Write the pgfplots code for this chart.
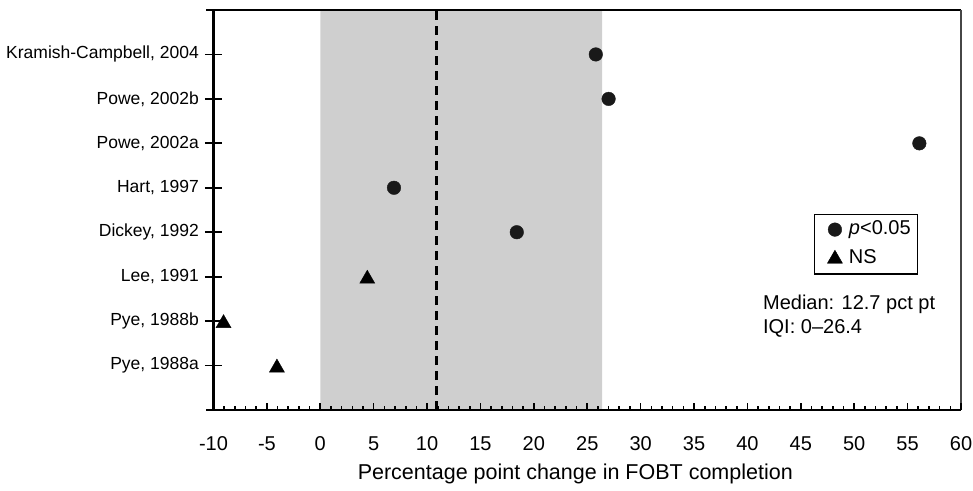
\documentclass[border=0pt]{standalone}
\usepackage{pgfplots}
\pgfplotsset{compat=1.18}
\usepackage{fontspec}
\setmainfont{Liberation Sans}
\definecolor{shade}{RGB}{207,207,207}
\definecolor{rframe}{RGB}{70,70,70}
\begin{document}
\begin{tikzpicture}
\begin{axis}[
  at={(0pt,0pt)}, anchor=south west,
  scale only axis, width=747.5pt, height=400pt,
  xmin=-10, xmax=60, ymin=0, ymax=9,
  clip=false,
  axis lines*=left,
  axis line style={line width=2.5pt, black},
  axis on top,
  xtick={-10,-5,...,60},
  minor x tick num=4,
  ytick={1,...,8},
  yticklabels={{Pye, 1988a},{Pye, 1988b},{Lee, 1991},{Dickey, 1992},{Hart, 1997},{Powe, 2002a},{Powe, 2002b},{Kramish-Campbell, 2004}},
  tick align=inside,
  major tick length=7pt, minor tick length=4pt,
  tick style={line width=1.6pt, black},
  ytick style={draw=none},
  /pgf/number format/assume math mode=true,
  xticklabel style={font=\fontsize{20}{24}\selectfont, anchor=base, yshift=-40pt},
  yticklabel style={font=\fontsize{17.5}{21}\selectfont, anchor=east, inner sep=0pt, xshift=-14.5pt},
  xlabel={Percentage point change in FOBT completion},
  xlabel style={at={(axis description cs:0.484,0)}, anchor=base, yshift=-69pt, font=\fontsize{21.5}{26}\selectfont},
  legend style={at={(rel axis cs:0.803,0.49)}, anchor=north west, draw=black, line width=1.2pt,
    font=\fontsize{20}{24}\selectfont, inner xsep=5pt, inner ysep=4pt, row sep=7.3pt, column sep=4.5pt,
    nodes={text height=14pt, text depth=4pt, inner sep=2pt}},
  legend cell align=left,
  legend image code/.code={\path (0pt,0pt); \draw[#1, line width=0.4pt] plot coordinates {(15pt,0pt)};},
]
\addplot[fill=shade, draw=none, forget plot] coordinates {(0,0) (0,9) (26.4,9) (26.4,0)} \closedcycle;
\addplot[black, line width=2.6pt, dash pattern=on 9pt off 6pt, forget plot] coordinates {(10.9,0) (10.9,9)};
\addplot[only marks, mark=*, mark size=6.8pt, mark options={fill=black!90, draw=black!90, line width=0.4pt}]
  coordinates {(25.8,8) (27.0,7) (56.1,6) (6.9,5) (18.4,4)};
\addlegendentry{\textit{p}<0.05}
\addplot[only marks, mark=triangle*, mark size=8.7pt, mark options={fill=black, draw=black, line width=0.4pt}]
  coordinates {(4.4,2.95) (-9.06,1.95) (-4.06,0.95)};
\addlegendentry{NS}
\pgfplotsinvokeforeach{1,...,8}{
  \draw[line width=1.8pt, black] ([xshift=-8.5pt]axis cs:-10,#1) -- ([xshift=8.5pt]axis cs:-10,#1);
}
\draw[line width=2pt, black] ([xshift=-7pt]rel axis cs:0,1) -- (rel axis cs:1,1);
\draw[line width=1.3pt, rframe] (rel axis cs:1,1) -- (rel axis cs:1,0);
\draw[line width=2.5pt, black] ([xshift=-7pt]rel axis cs:0,0) -- (rel axis cs:0,0);
\node[anchor=base west, inner sep=0pt, font=\fontsize{20}{24}\selectfont] at (rel axis cs:0.735,0.2525) {Median: 12.7 pct pt};
\node[anchor=base west, inner sep=0pt, font=\fontsize{20}{24}\selectfont] at (rel axis cs:0.735,0.1925) {IQI: 0–26.4};
\end{axis}
\pgfresetboundingbox
\path[use as bounding box] (-213.5pt,-80pt) rectangle (759.5pt,410pt);
\end{tikzpicture}
\end{document}
